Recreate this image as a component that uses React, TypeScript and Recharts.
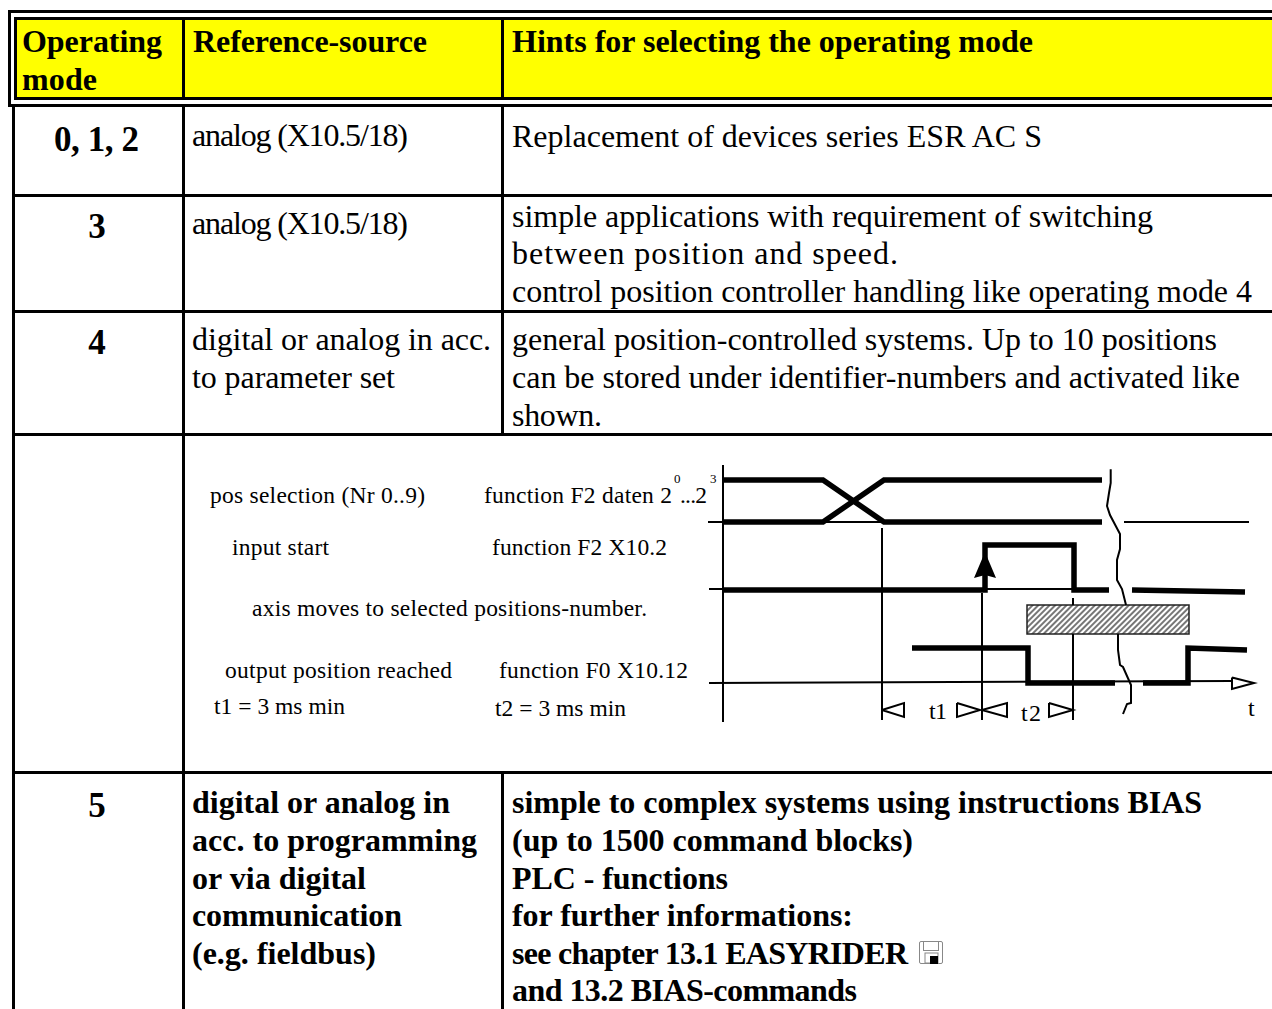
import { ComposedChart, Line, Scatter, XAxis, YAxis, ReferenceArea } from 'recharts'

// table text
const headers = ['Operating', 'mode', 'Reference-source', 'Hints for selecting the operating mode']
const modes = ['0, 1, 2', '3', '4', '5']
const sourceLines = ['analog (X10.5/18)', 'digital or analog in acc.', 'to parameter set']
const sourceBold = ['digital or analog in', 'acc. to programming', 'or via digital', 'communication', '(e.g. fieldbus)']
const hintsMode012 = ['Replacement of devices series ESR AC S']
const hintsMode3 = [
  'simple applications with requirement of switching',
  'between position and speed.',
  'control position controller handling like operating mode 4',
]
const hintsMode4 = [
  'general position-controlled systems. Up to 10 positions',
  'can be stored under identifier-numbers and activated like',
  'shown.',
]
const hintsMode5 = [
  'simple to complex systems using instructions BIAS',
  '(up to 1500 command blocks)',
  'PLC - functions',
  'for further informations:',
  'see chapter 13.1 EASYRIDER',
  'and 13.2 BIAS-commands',
]
const signalNames = ['pos selection (Nr 0..9)', 'input start', 'axis moves to selected positions-number.', 'output position reached']
const signalSources = ['function F2 daten 2', '...2', 'function F2 X10.2', 'function F0 X10.12']
const timings = ['t1 = 3 ms min', 't2 = 3 ms min']

// timing diagram, t = time along the axis, v = level above the time axis
const posUpper = [{ t: 0, v: 203 }, { t: 100, v: 203 }, { t: 161, v: 161 }, { t: 379, v: 161 }]
const posLower = [{ t: 0, v: 161 }, { t: 100, v: 161 }, { t: 161, v: 203 }, { t: 379, v: 203 }]
const posBaseLeft = [{ t: -15, v: 161 }, { t: 161, v: 161 }]
const posBaseRight = [{ t: 401, v: 161 }, { t: 526, v: 161 }]
const startPulse = [{ t: 0, v: 93 }, { t: 262, v: 93 }, { t: 262, v: 138 }, { t: 351, v: 138 }, { t: 351, v: 93 }, { t: 386, v: 93 }]
const startTail = [{ t: 409, v: 93 }, { t: 522, v: 91 }]
const startBase = [{ t: -14, v: 94 }, { t: 351, v: 94 }]
const startArrow = [{ t: 262, v: 131 }]
const reached = [{ t: 189, v: 35 }, { t: 305, v: 35 }, { t: 305, v: 0 }, { t: 392, v: 0 }]
const reachedTail = [{ t: 420, v: 0 }, { t: 465, v: 0 }, { t: 465, v: 35 }, { t: 524, v: 33 }]
const timeAxis = [{ t: -14, v: 0 }, { t: 509, v: 2 }]
const timeArrow = [{ t: 509, v: 5.5 }, { t: 531, v: 0 }, { t: 509, v: -6 }, { t: 509, v: 5.5 }]
const levelAxis = [{ t: 0, v: 218 }, { t: 0, v: -39 }]
const guide1 = [{ t: 159, v: 155 }, { t: 159, v: -37 }]
const guide2 = [{ t: 259, v: 90 }, { t: 259, v: -37 }]
const guide3a = [{ t: 350, v: 85 }, { t: 350, v: 78 }]
const guide3b = [{ t: 350, v: 49 }, { t: 350, v: -37 }]
const breakTop = [
  { t: 387.7, v: 213.7 }, { t: 387.7, v: 200 }, { t: 386, v: 190 }, { t: 384, v: 177 }, { t: 387, v: 168 },
  { t: 397, v: 149 }, { t: 397, v: 134 }, { t: 394, v: 123 }, { t: 394, v: 103 }, { t: 399, v: 94 }, { t: 403, v: 78 },
]
const breakBottom = [
  { t: 395, v: 49 }, { t: 395, v: 33 }, { t: 397, v: 18 }, { t: 400, v: 16 }, { t: 408, v: -2 },
  { t: 408, v: -20 }, { t: 404, v: -21 }, { t: 400, v: -31 },
]
const t1Left = [{ t: 159, v: -27 }, { t: 181, v: -20 }, { t: 181, v: -34 }, { t: 159, v: -27 }]
const t1Right = [{ t: 234, v: -20 }, { t: 257, v: -27 }, { t: 234, v: -34 }, { t: 234, v: -20 }]
const t2Left = [{ t: 259, v: -27 }, { t: 284, v: -20 }, { t: 284, v: -34 }, { t: 259, v: -27 }]
const t2Right = [{ t: 326, v: -20 }, { t: 350, v: -27 }, { t: 326, v: -34 }, { t: 326, v: -20 }]

const thickLines = [posUpper, posLower, startPulse, startTail, reached, reachedTail]
const thinLines = [
  posBaseLeft, posBaseRight, startBase, timeAxis, timeArrow, levelAxis, guide1, guide2, guide3a, guide3b,
  breakTop, breakBottom, t1Left, t1Right, t2Left, t2Right,
]

function T({ x, y, w, size = 32, bold = false, anchor, children }: any) {
  return (
    <text
      x={x}
      y={y}
      textLength={w}
      lengthAdjust={w ? 'spacing' : undefined}
      textAnchor={anchor}
      fontFamily="'Liberation Serif', serif"
      fontSize={size}
      fontWeight={bold ? 700 : 400}
      fill="#000"
    >
      {children}
    </text>
  )
}

function R({ x, y, w, h, fill = '#000' }: any) {
  return <rect x={x} y={y} width={w} height={h} fill={fill} />
}

function ArrowHead({ cx, cy }: any) {
  return <path d={`M${cx} ${cy}L${cx + 11} ${cy + 26}L${cx} ${cy + 23}L${cx - 11} ${cy + 26}Z`} fill="#000" />
}

export default function App() {
  return (
    <div style={{ position: 'absolute', left: 0, top: 0, width: 1272, height: 1009, overflow: 'hidden', background: '#fff' }}>
      <svg width={1272} height={1009} style={{ position: 'absolute', left: 0, top: 0 }}>
        {/* header block with double frame */}
        <R x={17} y={20} w={1255} h={77} fill="#ffff00" />
        <R x={8} y={10} w={1264} h={3} />
        <R x={8} y={10} w={3} h={97} />
        <R x={8} y={104} w={1264} h={3} />
        <R x={14} y={17} w={1258} h={3} />
        <R x={14} y={17} w={3} h={83} />
        <R x={14} y={97} w={1258} h={3} />
        <R x={182} y={20} w={3} h={77} />
        <R x={501} y={20} w={3} h={77} />

        {/* table rules */}
        <R x={12} y={107} w={3} h={902} />
        <R x={182} y={107} w={3} h={902} />
        <R x={501} y={107} w={3} h={327} />
        <R x={501} y={772} w={3} h={237} />
        <R x={12} y={194} w={1260} h={3} />
        <R x={12} y={310} w={1260} h={3} />
        <R x={12} y={433} w={1260} h={3} />
        <R x={12} y={771} w={1260} h={3} />

        <T x={22} y={52} w={140} bold>{headers[0]}</T>
        <T x={22} y={90} w={75} bold>{headers[1]}</T>
        <T x={193} y={52} w={234} bold>{headers[2]}</T>
        <T x={512} y={52} w={521} bold>{headers[3]}</T>

        <T x={54} y={151} w={85} size={35} bold>{modes[0]}</T>
        <T x={97} y={238} size={35} bold anchor="middle">{modes[1]}</T>
        <T x={97} y={354} size={35} bold anchor="middle">{modes[2]}</T>
        <T x={97} y={817} size={35} bold anchor="middle">{modes[3]}</T>

        <T x={192} y={146} w={216}>{sourceLines[0]}</T>
        <T x={192} y={234} w={216}>{sourceLines[0]}</T>
        <T x={192} y={350} w={299}>{sourceLines[1]}</T>
        <T x={192} y={388} w={203}>{sourceLines[2]}</T>

        <T x={192} y={813} w={258} bold>{sourceBold[0]}</T>
        <T x={192} y={851} w={285} bold>{sourceBold[1]}</T>
        <T x={192} y={889} w={174} bold>{sourceBold[2]}</T>
        <T x={192} y={926} w={210} bold>{sourceBold[3]}</T>
        <T x={192} y={964} w={184} bold>{sourceBold[4]}</T>

        <T x={512} y={147} w={530}>{hintsMode012[0]}</T>
        <T x={512} y={227} w={641}>{hintsMode3[0]}</T>
        <T x={512} y={264} w={386}>{hintsMode3[1]}</T>
        <T x={512} y={302} w={740}>{hintsMode3[2]}</T>
        <T x={512} y={350} w={705}>{hintsMode4[0]}</T>
        <T x={512} y={388} w={728}>{hintsMode4[1]}</T>
        <T x={512} y={426} w={90}>{hintsMode4[2]}</T>

        <T x={512} y={813} w={690} bold>{hintsMode5[0]}</T>
        <T x={512} y={851} w={401} bold>{hintsMode5[1]}</T>
        <T x={512} y={889} w={216} bold>{hintsMode5[2]}</T>
        <T x={512} y={926} w={341} bold>{hintsMode5[3]}</T>
        <T x={512} y={964} w={396} bold>{hintsMode5[4]}</T>
        <T x={512} y={1001} w={345} bold>{hintsMode5[5]}</T>

        {/* disk icon */}
        <rect x={919.5} y={941.5} width={23} height={22} rx={1.5} fill="#fff" stroke="#888" />
        <rect x={923.5} y={941.5} width={15} height={9} fill="#fff" stroke="#888" />
        <rect x={925} y={953} width={13} height={10} fill="#fff" stroke="#888" />
        <rect x={930} y={956} width={8} height={8} fill="#000" />

        {/* signal captions */}
        <T x={210} y={503} w={215} size={23.5}>{signalNames[0]}</T>
        <T x={232} y={555} w={97} size={23.5}>{signalNames[1]}</T>
        <T x={252} y={616} w={395} size={23.5}>{signalNames[2]}</T>
        <T x={225} y={678} w={227} size={23.5}>{signalNames[3]}</T>
        <T x={484} y={503} w={188} size={23.5}>{signalSources[0]}</T>
        <T x={674} y={483} size={13}>0</T>
        <T x={680} y={503} w={27} size={23.5}>{signalSources[1]}</T>
        <T x={710} y={483} size={13}>3</T>
        <T x={492} y={555} w={175} size={23.5}>{signalSources[2]}</T>
        <T x={499} y={678} w={189} size={23.5}>{signalSources[3]}</T>
        <T x={214} y={714} w={131} size={23.5}>{timings[0]}</T>
        <T x={495} y={716} w={131} size={23.5}>{timings[1]}</T>
        <T x={929} y={719} w={18} size={24}>t1</T>
        <T x={1021} y={721} w={20} size={24}>t2</T>
        <T x={1248} y={716} size={24}>t</T>
      </svg>

      <div style={{ position: 'absolute', left: 700, top: 450 }}>
        <ComposedChart width={572} height={290} margin={{ top: 0, right: 0, bottom: 0, left: 0 }}>
          <defs>
            <pattern id="hatch" width="4" height="4" patternUnits="userSpaceOnUse" patternTransform="rotate(45)">
              <rect width="4" height="4" fill="#fff" />
              <rect width="2" height="4" fill="#777" />
            </pattern>
          </defs>
          <XAxis type="number" dataKey="t" domain={[-23, 549]} hide allowDataOverflow />
          <YAxis type="number" dataKey="v" domain={[-57, 233]} hide allowDataOverflow />
          <ReferenceArea x1={304} x2={466} y1={78} y2={49} fill="url(#hatch)" fillOpacity={1} stroke="#222" strokeWidth={1.5} />
          {thinLines.map((pts, i) => (
            <Line key={i} data={pts} dataKey="v" type="linear" stroke="#000" strokeWidth={2} dot={false} activeDot={false} isAnimationActive={false} />
          ))}
          {thickLines.map((pts, i) => (
            <Line key={i} data={pts} dataKey="v" type="linear" stroke="#000" strokeWidth={5.5} dot={false} activeDot={false} isAnimationActive={false} />
          ))}
          <Scatter data={startArrow} dataKey="v" shape={<ArrowHead />} isAnimationActive={false} />
        </ComposedChart>
      </div>
    </div>
  )
}
